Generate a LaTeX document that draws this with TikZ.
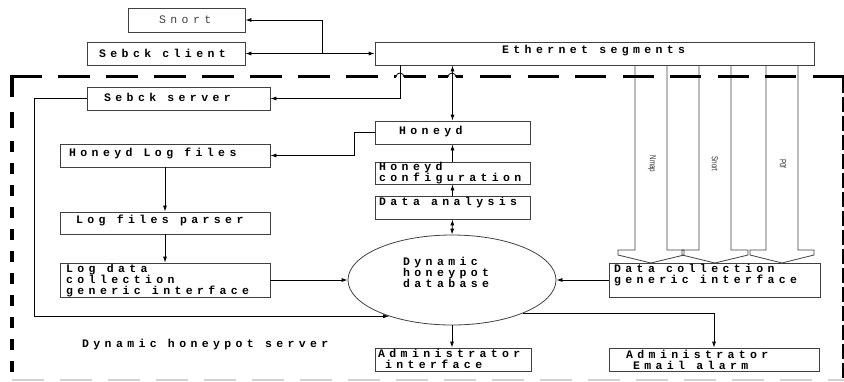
\documentclass[tikz,border=0pt]{standalone}
\usepackage{fontspec}
\setmainfont{Liberation Serif}
\newfontfamily\boxfont[LetterSpace=38]{Liberation Mono}
\newfontfamily\lblfont{Liberation Sans}
\usetikzlibrary{arrows.meta,shapes.geometric}
\begin{document}
\begin{tikzpicture}[x=1pt,y=-1pt,
  box/.style={draw=black!75, line width=0.8pt, inner sep=0pt},
  txt/.style={inner sep=0pt, anchor=west, align=left, font=\fontsize{11.5}{11}\boxfont\bfseries},
  txtr/.style={inner sep=0pt, anchor=west, align=left, font=\fontsize{11.5}{11}\boxfont, text=black!75},
  lbl/.style={inner sep=0pt, font=\fontsize{9}{10}\lblfont, text=black!80},
  arr/.style={line width=0.8pt, -{Latex[length=6pt,width=4pt]}},
  arrb/.style={line width=0.8pt, {Latex[length=6pt,width=4pt]}-{Latex[length=6pt,width=4pt]}},
  bigarr/.style={draw=black!75, line width=0.8pt},
  frame/.style={line width=3pt},
  framel/.style={line width=4.5pt}
]
\useasboundingbox (0,0) rectangle (844,381);

% big hollow arrows (Nmap, Snort, P0f)
\foreach \c/\h in {651/33, 715/33, 782/32} {
  \draw[bigarr] (\c-16,65) -- (\c-16,250) -- (\c-\h,250) -- (\c-\h,255) -- (\c,263)
     -- (\c+\h,255) -- (\c+\h,250) -- (\c+16,250) -- (\c+16,65);
}
\node[lbl, rotate=-90] (lnmap) at (652,164) {\scalebox{0.7}[1]{Nmap}};
\node[lbl, rotate=-90] (lsnort) at (715,164) {\scalebox{0.7}[1]{Snort}};
\node[lbl, rotate=-90] (lpof) at (783,164) {\scalebox{0.7}[1]{P0f}};

% dashed frame of the dynamic honeypot server
\draw[frame, dash pattern=on 32pt off 16pt] (10,76) -- (430,76);
\draw[frame] (438,76) -- (463,76);
\draw[frame, dash pattern=on 31pt off 16.5pt] (480,76) -- (844,76);
\draw[framel] (12,74.5) -- (12,97);
\draw[framel] (12,112) -- (12,128);
\draw[framel, dash pattern=on 11pt off 11pt] (12,141) -- (12,381);
\draw[line width=1.2pt, dash pattern=on 15pt off 4pt] (843,78) -- (843,381);
\draw[gray!35, line width=2pt, dash pattern=on 32pt off 16pt] (12,379.5) -- (844,379.5);
\fill[white] (396,73) rectangle (404,79);
\fill[white] (448,73) rectangle (456,79);

% boxes
\node[box, minimum width=117, minimum height=24] (snort) at (186.5,20) {};
\node[box, minimum width=158, minimum height=23] (sclient) at (166,53.5) {};
\node[box, minimum width=439, minimum height=23] (eth) at (594.5,53.5) {};
\node[box, minimum width=183, minimum height=23] (sserver) at (178.5,98.5) {};
\node[box, minimum width=155, minimum height=23] (honeyd) at (452.5,132.5) {};
\node[box, minimum width=155, minimum height=22] (hconf) at (452.5,173) {};
\node[box, minimum width=155, minimum height=23] (danal) at (452.5,207.5) {};
\node[box, minimum width=210, minimum height=23] (hlog) at (165,155.5) {};
\node[box, minimum width=210, minimum height=22] (parser) at (165,223) {};
\node[box, minimum width=210, minimum height=34] (logdata) at (165,280) {};
\node[box, ellipse, minimum width=208, minimum height=90] (db) at (452,280) {};
\node[box, minimum width=211, minimum height=34] (dcoll) at (714.5,280) {};
\node[box, minimum width=156, minimum height=23] (admin) at (453,359.5) {};
\node[box, minimum width=210, minimum height=23] (email) at (714,359.5) {};

% texts
\node[txtr] (tsnort) at (159,19.5) {Snort};
\node[txt] (tsclient) at (99,53) {Sebck client};
\node[txt] (teth) at (502,51) {Ethernet segments};
\node[txt] (tsserver) at (104,97) {Sebck server};
\node[txt] (thoneyd) at (399,132) {Honeyd};
\node[txt] (thconf) at (379,173.5) {Honeyd\\configuration};
\node[txt] (tdanal) at (379,203) {Data analysis};
\node[txt] (thlog) at (69,153) {Honeyd Log files};
\node[txt] (tparser) at (76,220) {Log files parser};
\node[txt] (tlogdata) at (66,281) {Log data\\collection\\generic interface};
\node[txt] (tdb) at (403,272) {Dynamic\\honeypot\\database};
\node[txt] (tdcoll) at (614,275.5) {Data collection\\generic interface};
\node[txt] (tadmin) at (378,358.5) {Administrator\\\hphantom{i}interface};
\node[txt] (temail) at (626,360) {Administrator\\\hphantom{E}Email alarm};
\node[txt] (tserver) at (82,345) {Dynamic honeypot server};

% connectors
\coordinate (snj) at (322,53.5);
\coordinate (hopA) at (400,76);
\draw[arr] (snj) |- (snort.east);
\draw[arrb] (sclient.east) -- (eth.west);
\draw[arr] (eth.south -| hopA) |- (sserver.east);
\draw[arrb] (eth.south -| honeyd.north) -- (honeyd.north);
\draw[arr] (honeyd.west) -- ++(-20,0) |- (hlog.east);
\draw[arr] (hconf.north) -- (honeyd.south);
\draw[arr] (danal.north) -- (hconf.south);
\draw[arrb] (danal.south) -- (db.north);
\draw[arr] (hlog.south) -- (parser.north);
\draw[arr] (parser.south) -- (logdata.north);
\draw[arr] (logdata.east) -- (db.west);
\draw[arr] (sserver.west) -- ++(-52,0) |- (db.210);
\draw[arr] (dcoll.west) -- (db.east);
\draw[arr] (db.south) -- (db.south |- admin.north);
\draw[arr] (db.335) -| (email.north);

% hops over the dashed frame
\draw[line width=0.8pt] (396,77) arc (180:360:4);
\draw[line width=0.8pt] (448,77) arc (180:360:4);
\end{tikzpicture}
\end{document}
